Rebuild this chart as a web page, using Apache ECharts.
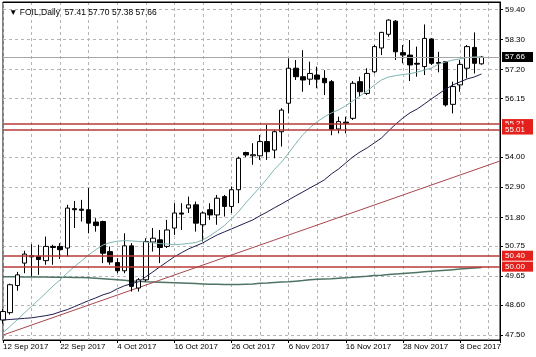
<!DOCTYPE html>
<html><head><meta charset="utf-8">
<script src="https://cdn.jsdelivr.net/npm/echarts@6/dist/echarts.min.js"></script>
<style>html,body{margin:0;padding:0;background:#fff}#c{width:536px;height:357px}</style>
</head><body><div id="c"></div>
<script>
const dates = ['12 Sep 2017','13 Sep 2017','14 Sep 2017','15 Sep 2017','18 Sep 2017','19 Sep 2017','20 Sep 2017','21 Sep 2017','22 Sep 2017','25 Sep 2017','26 Sep 2017','27 Sep 2017','28 Sep 2017','29 Sep 2017','2 Oct 2017','3 Oct 2017','4 Oct 2017','5 Oct 2017','6 Oct 2017','9 Oct 2017','10 Oct 2017','11 Oct 2017','12 Oct 2017','13 Oct 2017','16 Oct 2017','17 Oct 2017','18 Oct 2017','19 Oct 2017','20 Oct 2017','23 Oct 2017','24 Oct 2017','25 Oct 2017','26 Oct 2017','27 Oct 2017','30 Oct 2017','31 Oct 2017','1 Nov 2017','2 Nov 2017','3 Nov 2017','5 Nov 2017','6 Nov 2017','7 Nov 2017','8 Nov 2017','9 Nov 2017','10 Nov 2017','13 Nov 2017','14 Nov 2017','15 Nov 2017','16 Nov 2017','17 Nov 2017','20 Nov 2017','21 Nov 2017','22 Nov 2017','23 Nov 2017','24 Nov 2017','27 Nov 2017','28 Nov 2017','29 Nov 2017','30 Nov 2017','1 Dec 2017','4 Dec 2017','5 Dec 2017','6 Dec 2017','7 Dec 2017','8 Dec 2017','11 Dec 2017','12 Dec 2017','13 Dec 2017'];
const opens  = [48.05,48.32,49.31,50.13,50.40,50.38,50.22,50.74,50.74,50.68,52.12,52.10,52.08,51.63,51.65,50.55,50.15,49.85,50.76,49.22,49.52,50.90,50.98,50.74,51.41,51.96,52.14,52.26,51.53,52.08,51.89,52.56,52.20,52.81,54.17,54.05,54.05,54.57,54.26,54.93,55.97,57.25,56.94,56.85,57.00,56.88,56.76,55.03,55.28,55.42,56.76,56.33,57.12,57.99,58.49,58.97,57.82,57.73,57.43,57.31,58.32,57.46,57.49,55.93,56.64,57.25,58.01,57.41];
const closes = [48.36,49.34,49.70,50.46,50.36,50.26,50.74,50.70,50.62,52.14,52.08,52.06,51.59,51.50,50.49,50.17,49.85,50.76,49.28,49.52,50.92,51.04,50.70,51.34,51.96,51.92,52.26,51.59,51.96,51.89,52.50,52.20,52.81,53.96,54.08,54.09,54.57,54.20,54.93,55.72,57.25,56.94,56.82,57.06,56.85,56.72,55.02,55.30,55.24,56.70,56.39,57.06,58.04,58.56,59.01,57.85,57.73,57.37,57.40,58.34,57.43,57.43,55.91,56.58,57.39,58.04,57.43,57.66];
const lows   = [47.92,48.25,49.12,49.76,49.64,49.70,50.07,50.07,50.28,50.37,51.41,51.65,51.22,51.28,50.13,50.07,49.76,49.76,49.09,49.09,49.46,50.55,50.13,50.68,51.16,51.34,51.96,51.28,50.92,51.71,51.53,51.83,51.96,52.32,54.00,53.72,53.90,53.90,53.96,54.39,55.60,56.82,56.39,56.64,56.52,56.27,54.80,54.87,54.87,55.36,56.21,56.27,57.06,57.73,58.40,57.55,57.43,56.78,56.94,57.00,57.37,57.10,55.85,55.60,56.39,56.88,57.06,57.38];
const highs  = [48.45,49.38,49.81,50.58,50.82,50.80,51.10,50.80,50.86,52.26,52.40,52.44,52.87,51.77,51.68,50.74,50.31,51.22,50.86,49.58,51.04,51.41,51.34,51.71,52.32,52.32,52.56,52.38,52.02,52.32,52.62,52.62,52.93,54.02,54.20,54.51,54.81,55.18,55.00,55.79,57.61,57.55,57.91,57.49,57.31,57.18,56.82,55.48,55.48,56.78,56.94,57.25,58.10,58.58,59.04,59.01,58.10,58.28,58.04,58.85,58.34,57.85,57.51,56.76,57.55,58.10,58.56,57.70];
const maFast = [47.59,47.82,48.06,48.31,48.55,48.79,49.04,49.29,49.52,49.77,50.00,50.21,50.43,50.62,50.79,50.88,50.93,50.95,50.94,50.92,50.90,50.87,50.84,50.83,50.80,50.82,50.85,50.88,50.98,51.13,51.31,51.50,51.75,52.01,52.33,52.62,52.91,53.22,53.55,53.82,54.15,54.50,54.82,55.08,55.30,55.47,55.62,55.73,55.88,56.06,56.24,56.42,56.63,56.82,56.93,56.98,57.02,57.05,57.11,57.18,57.26,57.40,57.48,57.55,57.59,57.64,57.66,57.67];
const maSlow = [48.05,48.07,48.09,48.11,48.13,48.17,48.21,48.26,48.35,48.43,48.54,48.65,48.76,48.86,48.97,49.05,49.19,49.30,49.38,49.45,49.63,49.81,50.00,50.18,50.36,50.51,50.65,50.76,50.87,51.02,51.16,51.27,51.38,51.49,51.60,51.71,51.86,52.00,52.15,52.29,52.44,52.59,52.73,52.88,53.02,53.17,53.39,53.57,53.79,54.01,54.19,54.34,54.52,54.70,54.96,55.21,55.43,55.62,55.76,55.94,56.13,56.31,56.49,56.64,56.75,56.86,56.93,57.04];
const maLong = [49.63,49.63,49.63,49.62,49.62,49.62,49.62,49.61,49.61,49.61,49.60,49.60,49.59,49.58,49.56,49.54,49.52,49.50,49.48,49.47,49.45,49.44,49.43,49.42,49.41,49.40,49.39,49.38,49.37,49.36,49.36,49.35,49.35,49.35,49.36,49.37,49.39,49.40,49.42,49.44,49.45,49.47,49.49,49.52,49.54,49.55,49.56,49.58,49.59,49.61,49.63,49.65,49.68,49.69,49.71,49.73,49.75,49.77,49.79,49.81,49.83,49.85,49.87,49.89,49.91,49.93,49.95,49.97];
const trendLine = [[0, 47.50], [69.6, 53.86]];
const levels = [55.21, 55.01, 50.40, 50.00];
const lastPrice = 57.66;
const yTicks = [47.50, 48.60, 49.65, 50.75, 51.80, 52.90, 54.00, 56.15, 57.20, 58.30, 59.40];
const titleText = '\u25BC FOIL,Daily  57.41 57.70 57.38 57.66';

const FONT = 'Liberation Sans';
const candles = opens.map((o, i) => [i, o, closes[i], lows[i], highs[i]]);
const toXY = arr => arr.map((v, i) => [i, v]);
const levelLine = v => ({
  yAxis: v,
  lineStyle: {color: '#b43a3a', width: 1.5, type: 'solid'},
  label: {show: true, position: 'end', distance: 2, formatter: () => v.toFixed(2),
    backgroundColor: '#e3201b', color: '#fff', padding: [1, 8, 0, 3], fontSize: 8, fontFamily: FONT, lineHeight: 9}
});

const chart = echarts.init(document.getElementById('c'), null, {renderer: 'canvas'});
chart.setOption({
  animation: false,
  backgroundColor: '#fff',
  title: {text: titleText, left: 4, top: 3, textStyle: {fontSize: 8.5, fontWeight: 'normal', color: '#000', fontFamily: FONT}},
  grid: {left: 2, right: 36, top: 2, bottom: 17, show: true, borderColor: '#000', borderWidth: 1, backgroundColor: 'transparent'},
  xAxis: [
    {type: 'value', position: 'bottom', min: 0, max: 69.6, interval: 8,
      axisLine: {show: true, onZero: false, lineStyle: {color: '#000'}},
      axisTick: {show: true, length: 3, lineStyle: {color: '#000'}},
      axisLabel: {show: true, align: 'left', margin: 3, fontSize: 8, fontFamily: FONT, color: '#000',
        showMinLabel: true, showMaxLabel: true, hideOverlap: false,
        formatter: v => (Number.isInteger(v) && v % 8 === 0 && dates[v]) ? dates[v] : ''},
      splitLine: {show: false}},
    {type: 'value', position: 'top', min: 0, max: 69.6, interval: 4,
      axisLine: {show: true, onZero: false, lineStyle: {color: '#000'}},
      axisTick: {show: false}, axisLabel: {show: false},
      splitLine: {show: true, lineStyle: {color: '#b4b4b4', type: [3, 3], width: 1}}}
  ],
  yAxis: {type: 'value', position: 'right', min: 47.32, max: 59.67, scale: true,
    axisLine: {show: true, onZero: false, lineStyle: {color: '#000'}},
    axisTick: {show: true, length: 3, customValues: yTicks, lineStyle: {color: '#000'}},
    axisLabel: {show: true, customValues: yTicks, margin: 5, fontSize: 8, fontFamily: FONT, color: '#000',
      formatter: v => v.toFixed(2)},
    splitLine: {show: true, lineStyle: {color: '#b4b4b4', type: [3, 3], width: 1}}},
  series: [
    {type: 'line', name: 'MA long', data: toXY(maLong), showSymbol: false, symbol: 'none', z: 2,
      lineStyle: {color: '#4f7463', width: 1.5}},
    {type: 'line', name: 'Trend', data: trendLine, showSymbol: false, symbol: 'none', z: 2,
      lineStyle: {color: '#a8464e', width: 1},
      markLine: {silent: true, symbol: ['none', 'none'], animation: false,
        data: [
          {yAxis: lastPrice, lineStyle: {color: '#a8a8a8', width: 1, type: 'solid'},
            label: {show: true, position: 'end', distance: 2, formatter: () => lastPrice.toFixed(2),
              backgroundColor: '#000', color: '#fff', padding: [1, 8, 0, 3], fontSize: 8, fontFamily: FONT, lineHeight: 9}}
        ].concat(levels.map(levelLine))}},
    {type: 'candlestick', name: 'FOIL', data: candles, barWidth: 5, z: 3,
      itemStyle: {color: '#fff', color0: '#000', borderColor: '#000', borderColor0: '#000', borderWidth: 1}},
    {type: 'line', name: 'MA fast', data: toXY(maFast), showSymbol: false, symbol: 'none', z: 4,
      lineStyle: {color: '#7fb3b3', width: 1}},
    {type: 'line', name: 'MA slow', data: toXY(maSlow), showSymbol: false, symbol: 'none', z: 4,
      lineStyle: {color: '#1e1e4e', width: 1}}
  ]
});
</script></body></html>
